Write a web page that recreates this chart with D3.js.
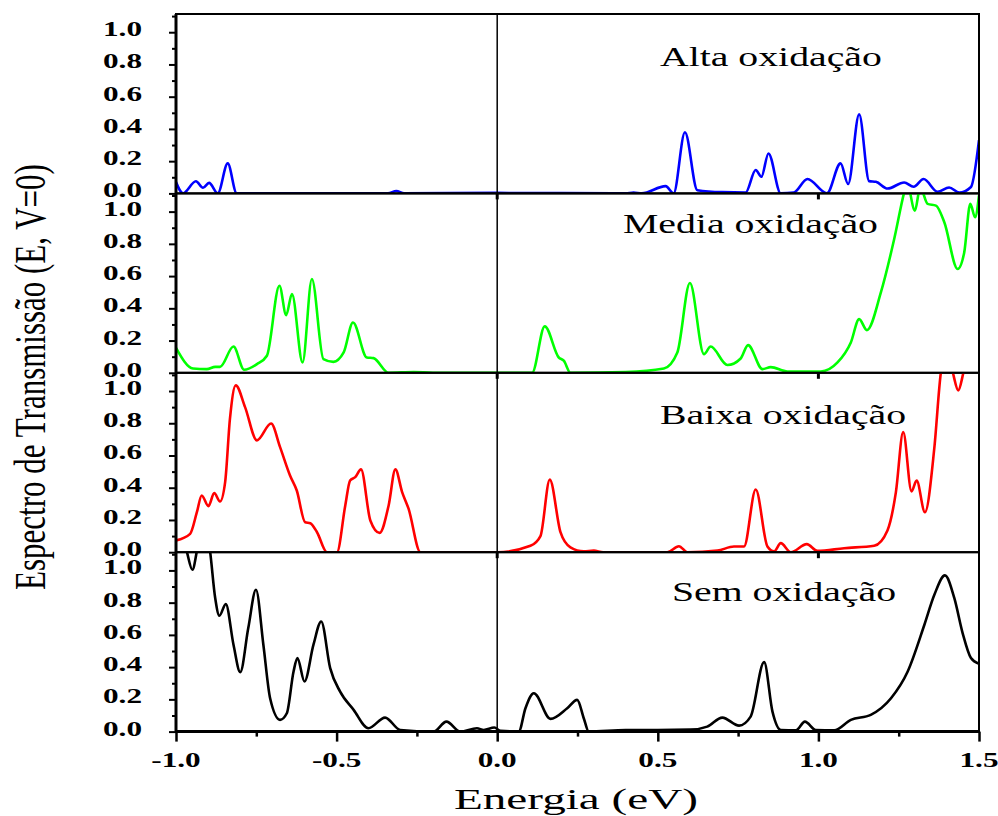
<!DOCTYPE html>
<html>
<head>
<meta charset="utf-8">
<script src="https://cdn.jsdelivr.net/npm/d3@7"></script>
<style>
  body { margin: 0; background: #fff; }
  svg { display: block; }
</style>
</head>
<body>
<div id="chart"></div>
<script>
// energy (eV), transmission pairs
const altaOxidacao = [
  [-1.0, 0.07], [-0.978, 0.0], [-0.938, 0.075], [-0.916, 0.035], [-0.897, 0.065], [-0.870, 0.0],
  [-0.839, 0.186], [-0.811, 0.0], [-0.60, 0.0], [-0.34, 0.0], [-0.314, 0.015], [-0.29, 0.0],
  [0.0, 0.003], [0.40, 0.0], [0.4246, 0.006], [0.45, 0.0], [0.5243, 0.045], [0.5492, 0.0],
  [0.5845, 0.379], [0.6231, 0.02], [0.70, 0.008], [0.7737, 0.006], [0.8048, 0.145], [0.8226, 0.103],
  [0.8445, 0.248], [0.8828, 0.0], [0.9233, 0.005], [0.966, 0.089], [1.0265, 0.0], [1.069, 0.186],
  [1.0926, 0.058], [1.1269, 0.49], [1.158, 0.076], [1.179, 0.072], [1.2154, 0.03], [1.267, 0.068],
  [1.2965, 0.041], [1.3276, 0.089], [1.3713, 0.01], [1.407, 0.037], [1.4386, 0.005], [1.475, 0.04],
  [1.5, 0.33]
];
const mediaOxidacao = [
  [-1.0, 0.155], [-0.947, 0.027], [-0.904, 0.023], [-0.878, 0.037], [-0.863, 0.037], [-0.821, 0.163],
  [-0.788, 0.019], [-0.748, 0.054], [-0.717, 0.106], [-0.678, 0.54], [-0.657, 0.358], [-0.639, 0.489],
  [-0.606, 0.064], [-0.577, 0.582], [-0.541, 0.085], [-0.510, 0.068], [-0.478, 0.126], [-0.449, 0.312],
  [-0.406, 0.095], [-0.385, 0.091], [-0.338, 0.0], [-0.26, 0.005], [-0.2, 0.0], [0.1088, 0.0],
  [0.148, 0.288], [0.1917, 0.095], [0.2073, 0.075], [0.2282, 0.0], [0.3996, 0.005], [0.519, 0.027],
  [0.5608, 0.126], [0.6, 0.557], [0.6437, 0.116], [0.6646, 0.163], [0.7166, 0.048], [0.758, 0.089],
  [0.781, 0.172], [0.8257, 0.023], [0.8516, 0.035], [0.9037, 0.008], [1.0075, 0.008], [1.0595, 0.064],
  [1.101, 0.188], [1.1269, 0.333], [1.151, 0.265], [1.1945, 0.499], [1.236, 0.83], [1.2672, 1.12],
  [1.2756, 1.18], [1.3005, 1.006], [1.317, 1.15], [1.34, 1.048], [1.366, 1.037], [1.392, 0.934],
  [1.4336, 0.644], [1.454, 0.747], [1.473, 1.048], [1.4877, 0.965], [1.5, 1.10]
];
const baixaOxidacao = [
  [-1.0, 0.073], [-0.956, 0.114], [-0.935, 0.248], [-0.920, 0.352], [-0.899, 0.286], [-0.881, 0.367],
  [-0.863, 0.315], [-0.847, 0.435], [-0.832, 0.829], [-0.814, 1.035], [-0.785, 0.90], [-0.748, 0.694],
  [-0.704, 0.798], [-0.676, 0.652], [-0.645, 0.476], [-0.624, 0.383], [-0.598, 0.186], [-0.582, 0.18],
  [-0.561, 0.124], [-0.530, 0.0], [-0.499, 0.0], [-0.473, 0.29], [-0.458, 0.445], [-0.442, 0.466],
  [-0.424, 0.514], [-0.395, 0.197], [-0.366, 0.12], [-0.338, 0.29], [-0.317, 0.514], [-0.296, 0.373],
  [-0.276, 0.27], [-0.239, 0.0], [0.0, 0.0], [0.1035, 0.04], [0.1347, 0.10], [0.1637, 0.45],
  [0.197, 0.124], [0.228, 0.03], [0.2697, 0.005], [0.3008, 0.01], [0.33, 0.0], [0.5296, 0.0],
  [0.5658, 0.037], [0.592, 0.0], [0.6855, 0.01], [0.7372, 0.035], [0.7684, 0.035], [0.8049, 0.389],
  [0.8413, 0.035], [0.862, 0.005], [0.8828, 0.056], [0.914, 0.0], [0.9638, 0.05], [0.997, 0.008],
  [1.080, 0.025], [1.1736, 0.04], [1.215, 0.135], [1.2413, 0.373], [1.264, 0.745], [1.29, 0.377],
  [1.3058, 0.445], [1.3317, 0.248], [1.3607, 0.642], [1.3815, 1.118], [1.40, 1.25], [1.418, 1.118],
  [1.4355, 1.004], [1.452, 1.118], [1.475, 1.3], [1.5, 1.3]
];
const semOxidacao = [
  [-1.0, 1.3], [-0.967, 1.12], [-0.949, 1.004], [-0.935, 1.12], [-0.916, 1.35], [-0.894, 1.12],
  [-0.878, 0.829], [-0.865, 0.719], [-0.845, 0.791], [-0.821, 0.539], [-0.800, 0.369], [-0.775, 0.642],
  [-0.751, 0.88], [-0.728, 0.539], [-0.707, 0.207], [-0.676, 0.073], [-0.655, 0.114], [-0.634, 0.373],
  [-0.622, 0.456], [-0.600, 0.311], [-0.572, 0.539], [-0.548, 0.683], [-0.520, 0.394], [-0.489, 0.248],
  [-0.447, 0.135], [-0.401, 0.021], [-0.349, 0.087], [-0.302, 0.01], [-0.198, 0.0], [-0.158, 0.062],
  [-0.115, 0.0], [-0.063, 0.021], [-0.042, 0.01], [-0.009, 0.025], [0.01, 0.005], [0.067, 0.0],
  [0.088, 0.145], [0.114, 0.238], [0.166, 0.079], [0.218, 0.145], [0.249, 0.197], [0.270, 0.08],
  [0.285, 0.0], [0.40, 0.01], [0.50, 0.01], [0.602, 0.012], [0.654, 0.031], [0.701, 0.087],
  [0.753, 0.037], [0.789, 0.093], [0.831, 0.431], [0.857, 0.124], [0.883, 0.01], [0.930, 0.008],
  [0.958, 0.062], [0.992, 0.01], [1.049, 0.008], [1.101, 0.073], [1.163, 0.104], [1.226, 0.207],
  [1.278, 0.373], [1.330, 0.663], [1.361, 0.849], [1.394, 0.969], [1.423, 0.829], [1.449, 0.611],
  [1.475, 0.456], [1.5, 0.42]
];

const panelNames = ["Alta oxidação", "Media oxidação", "Baixa oxidação", "Sem oxidação"];
const panelColors = ["#0000ff", "#00ff00", "#ff0000", "#000000"];
const panelSeries = [altaOxidacao, mediaOxidacao, baixaOxidacao, semOxidacao];
const yTicks = [0, 0.2, 0.4, 0.6, 0.8, 1.0];
const yMinorTicks = [0.1, 0.3, 0.5, 0.7, 0.9, 1.1];
const xTicks = [-1.0, -0.5, 0.0, 0.5, 1.0, 1.5];
const xMinorTicks = [-0.75, -0.25, 0.25, 0.75, 1.25];

const W = 998, H = 816;
const plotLeft = 176, plotRight = 979, plotTop = 14, panelH = 179.4;
const stretch = 1.42; // the figure's text is widened horizontally
const serif = "'Liberation Serif', 'Times New Roman', serif";
const fmt = v => d3.format(".1f")(v).replace("\u2212", "-");

const svg = d3.select("#chart").append("svg")
    .attr("width", W)
    .attr("height", H);

svg.append("rect").attr("width", W).attr("height", H).attr("fill", "#fff");

const x = d3.scaleLinear().domain([-1.0, 1.5]).range([plotLeft, plotRight]);
const y = d3.scaleLinear().domain([0, 1.113]).range([panelH, 0]);

const line = d3.line()
    .x(d => x(d[0]))
    .y(d => y(d[1]))
    .curve(d3.curveMonotoneX);

function stretchedText(parent, tx, ty, str, sx) {
    return parent.append("text")
        .attr("transform", `translate(${tx},${ty}) scale(${sx || stretch},1)`)
        .attr("font-family", serif)
        .text(str);
}

const defs = svg.append("defs");

panelSeries.forEach((series, i) => {
    const g = svg.append("g").attr("transform", `translate(0,${plotTop + i * panelH})`);

    defs.append("clipPath").attr("id", "clip" + i)
        .append("rect")
        .attr("x", plotLeft).attr("y", 0)
        .attr("width", plotRight - plotLeft).attr("height", panelH);

    g.append("path")
        .datum(series)
        .attr("clip-path", `url(#clip${i})`)
        .attr("fill", "none")
        .attr("stroke", panelColors[i])
        .attr("stroke-width", 2.6)
        .attr("stroke-linejoin", "round")
        .attr("d", line);

    // frame
    g.append("rect")
        .attr("x", plotLeft).attr("y", 0)
        .attr("width", plotRight - plotLeft).attr("height", panelH)
        .attr("fill", "none").attr("stroke", "#000").attr("stroke-width", 2);
    g.append("line")
        .attr("x1", plotLeft).attr("x2", plotLeft).attr("y1", 0).attr("y2", panelH)
        .attr("stroke", "#000").attr("stroke-width", 3);

    // y ticks
    const yMajor = g.append("g").attr("transform", `translate(${plotLeft},0)`)
        .call(d3.axisLeft(y).tickValues(yTicks).tickSize(7).tickFormat(""));
    const yMinor = g.append("g").attr("transform", `translate(${plotLeft},0)`)
        .call(d3.axisLeft(y).tickValues(yMinorTicks).tickSize(4).tickFormat(""));
    [yMajor, yMinor].forEach(a => {
        a.select(".domain").remove();
        a.selectAll("line").attr("stroke", "#000").attr("stroke-width", 2);
    });

    yTicks.forEach(v => {
        stretchedText(g, 142, y(v) + 4, fmt(v))
            .attr("text-anchor", "end")
            .attr("font-size", 22)
            .attr("font-weight", "bold");
    });

    // panel label
    const labelX = [660, 623, 660, 672][i];
    const labelY = [52, 40, 51, 49][i];
    stretchedText(g, labelX, labelY, panelNames[i])
        .attr("font-size", 28)
        .attr("fill", "#000");

    // small ticks below internal boundaries
    if (i > 0) {
        [0, 1.0].forEach(v => {
            g.append("line")
                .attr("x1", x(v)).attr("x2", x(v)).attr("y1", 0).attr("y2", 6)
                .attr("stroke", "#000").attr("stroke-width", 3);
        });
    }
});

const plotBottom = plotTop + 4 * panelH;

// vertical line at E = 0
svg.append("line")
    .attr("x1", x(0)).attr("x2", x(0))
    .attr("y1", plotTop).attr("y2", plotBottom)
    .attr("stroke", "#000").attr("stroke-width", 1.5);

// bottom axis
svg.append("line")
    .attr("x1", plotLeft - 1).attr("x2", plotRight + 1).attr("y1", plotBottom).attr("y2", plotBottom)
    .attr("stroke", "#000").attr("stroke-width", 3);

const xMajor = svg.append("g").attr("transform", `translate(0,${plotBottom})`)
    .call(d3.axisBottom(x).tickValues(xTicks).tickSize(10).tickFormat(""));
const xMinor = svg.append("g").attr("transform", `translate(0,${plotBottom})`)
    .call(d3.axisBottom(x).tickValues(xMinorTicks).tickSize(5).tickFormat(""));
[xMajor, xMinor].forEach(a => {
    a.select(".domain").remove();
    a.selectAll("line").attr("stroke", "#000").attr("stroke-width", 2.5);
});

xTicks.forEach(v => {
    stretchedText(svg, x(v), 767, fmt(v))
        .attr("text-anchor", "middle")
        .attr("font-size", 22)
        .attr("font-weight", "bold");
});

// axis titles
stretchedText(svg, 576, 809, "Energia (eV)", 1.6)
    .attr("text-anchor", "middle")
    .attr("font-size", 29.5);

svg.append("text")
    .attr("transform", `translate(45,377) scale(${stretch},1) rotate(-90)`)
    .attr("text-anchor", "middle")
    .attr("font-family", serif)
    .attr("font-size", 31)
    .text("Espectro de Transmissão (E, V=0)");
</script>
</body>
</html>
